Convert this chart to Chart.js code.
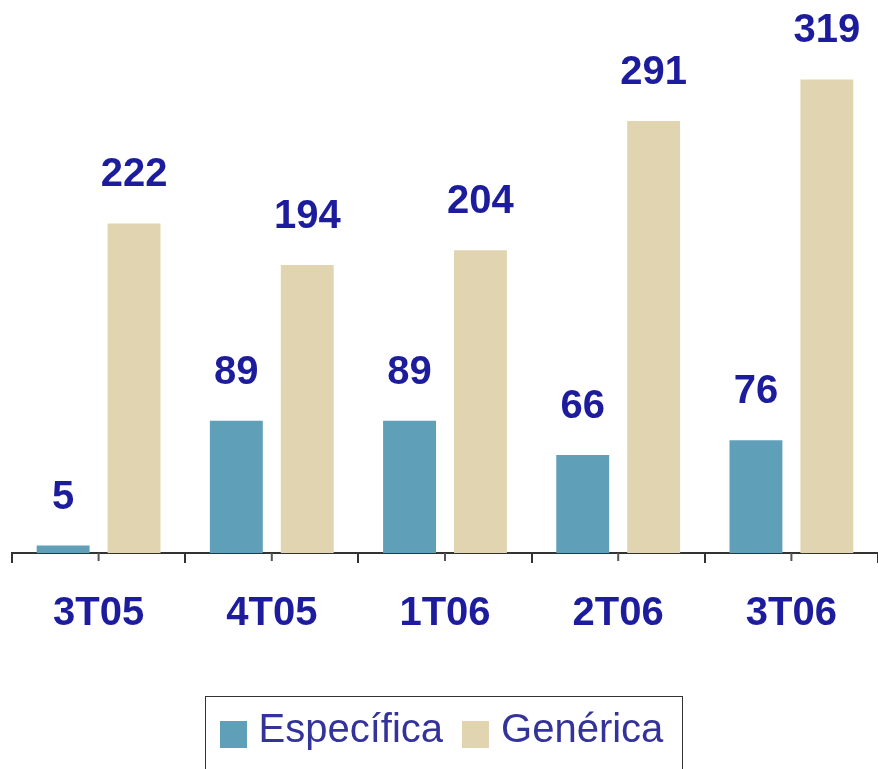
<!DOCTYPE html>
<html>
<head>
<meta charset="utf-8">
<script src="https://cdn.jsdelivr.net/npm/chart.js@4"></script>
<style>
  body { margin: 0; background: #fff; }
  #wrap { position: relative; width: 878px; height: 769px; overflow: hidden; }
  #legend {
    position: absolute; left: 205px; top: 696px; width: 478px; height: 90px;
    border: 1.5px solid #333; display: flex; align-items: flex-start;
    padding: 11px 0 0 13.5px; box-sizing: border-box;
    font-family: "Liberation Sans", Arial, sans-serif; font-size: 40px; line-height: 40px;
    color: #333399;
  }
  .item { display: flex; align-items: flex-start; margin-right: 19px; }
  .swatch { width: 27px; height: 27px; margin-top: 13px; margin-right: 12px; }
</style>
</head>
<body>
<div id="wrap">
  <canvas id="myChart" width="878" height="769"></canvas>
  <div id="legend"></div>
</div>
<script>
const quarters = ["3T05", "4T05", "1T06", "2T06", "3T06"];
const especifica = [5, 89, 89, 66, 76];
const generica = [222, 194, 204, 291, 319];
const seriesNames = ["Específica", "Genérica"];
const seriesColors = ["#5f9fb8", "#e0d5b0"];
const labelBlue = "#1c1c9c";

// values above each bar
const valueLabels = {
  id: "valueLabels",
  afterDatasetsDraw(chart) {
    const ctx = chart.ctx;
    ctx.save();
    ctx.font = "bold 40px 'Liberation Sans', Arial, sans-serif";
    ctx.fillStyle = labelBlue;
    ctx.textAlign = "center";
    ctx.textBaseline = "middle";
    chart.data.datasets.forEach((ds, i) => {
      chart.getDatasetMeta(i).data.forEach((bar, j) => {
        ctx.fillText(ds.data[j], bar.x, bar.y - 48);
      });
    });
    ctx.restore();
  }
};

// small ticks under the middle of each group
const centerTicks = {
  id: "centerTicks",
  afterDraw(chart) {
    const ctx = chart.ctx;
    const x = chart.scales.x;
    const y0 = chart.chartArea.bottom;
    ctx.save();
    ctx.strokeStyle = "#555";
    ctx.lineWidth = 2;
    quarters.forEach((q, i) => {
      const px = x.getPixelForValue(i);
      ctx.beginPath();
      ctx.moveTo(px, y0);
      ctx.lineTo(px, y0 + 8);
      ctx.stroke();
    });
    ctx.restore();
  }
};

const ctx = document.getElementById("myChart").getContext("2d");
const myChart = new Chart(ctx, {
  type: "bar",
  data: {
    labels: quarters,
    datasets: [
      {
        label: seriesNames[0],
        data: especifica,
        backgroundColor: seriesColors[0],
        categoryPercentage: 0.819,
        barPercentage: 0.746,
      },
      {
        label: seriesNames[1],
        data: generica,
        backgroundColor: seriesColors[1],
        categoryPercentage: 0.819,
        barPercentage: 0.746,
      },
    ],
  },
  options: {
    responsive: false,
    animation: false,
    layout: { padding: { left: 12, right: 0, top: 0, bottom: 104 } },
    plugins: {
      legend: { display: false },
      tooltip: { enabled: false },
    },
    scales: {
      x: {
        grid: {
          display: true,
          drawOnChartArea: false,
          tickLength: 10,
          color: "#333",
          lineWidth: 2,
        },
        border: { display: true, color: "#333", width: 2 },
        ticks: {
          padding: 27,
          color: labelBlue,
          font: { family: "'Liberation Sans', Arial, sans-serif", size: 40, weight: "bold" },
        },
      },
      y: {
        display: false,
        min: 0,
        max: 372.5,
      },
    },
  },
  plugins: [valueLabels, centerTicks],
});

// legend
const legend = document.getElementById("legend");
seriesNames.forEach((name, i) => {
  const item = document.createElement("div");
  item.className = "item";
  const sw = document.createElement("div");
  sw.className = "swatch";
  sw.style.background = seriesColors[i];
  const txt = document.createElement("span");
  txt.textContent = name;
  item.appendChild(sw);
  item.appendChild(txt);
  legend.appendChild(item);
});
</script>
</body>
</html>
